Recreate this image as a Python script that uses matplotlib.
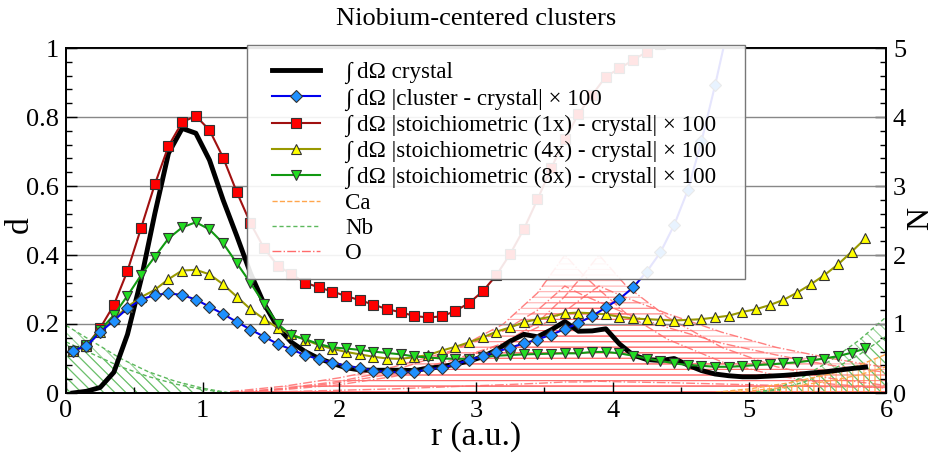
import numpy as np
import matplotlib
matplotlib.use('Agg')
import matplotlib.pyplot as plt
from matplotlib.ticker import MultipleLocator
from matplotlib.lines import Line2D
from matplotlib.patches import Rectangle

plt.rcParams['font.family'] = ['Liberation Serif', 'DejaVu Serif']
plt.rcParams['hatch.linewidth'] = 0.8

# radial grid of the d curves (a.u.)
r = np.linspace(0.05, 5.85, 59)

crystal = [0.0, 0.005, 0.016, 0.06, 0.17, 0.33, 0.52, 0.695, 0.767, 0.753,
           0.675, 0.559, 0.455, 0.347, 0.258, 0.19, 0.147, 0.12, 0.100, 0.086,
           0.073, 0.067, 0.066, 0.066, 0.066, 0.065, 0.072, 0.076, 0.084, 0.093,
           0.105, 0.125, 0.150, 0.170, 0.163, 0.183, 0.207, 0.179, 0.180, 0.186,
           0.142, 0.110, 0.097, 0.094, 0.100, 0.081, 0.065, 0.055, 0.050, 0.047,
           0.047, 0.049, 0.051, 0.054, 0.058, 0.061, 0.066, 0.071, 0.075]

cluster = [0.123, 0.136, 0.176, 0.210, 0.245, 0.271, 0.284, 0.289, 0.284, 0.271,
           0.250, 0.229, 0.206, 0.184, 0.163, 0.142, 0.126, 0.110, 0.098, 0.088,
           0.079, 0.073, 0.065, 0.061, 0.060, 0.061, 0.069, 0.073, 0.083, 0.096,
           0.107, 0.120, 0.131, 0.144, 0.155, 0.169, 0.185, 0.203, 0.223, 0.248,
           0.273, 0.306, 0.352, 0.408, 0.487, 0.588, 0.73, 0.893, 1.07]

stoich1 = [0.123, 0.137, 0.188, 0.255, 0.354, 0.479, 0.605, 0.716, 0.785, 0.803,
           0.762, 0.682, 0.582, 0.492, 0.419, 0.369, 0.344, 0.320, 0.306, 0.294,
           0.281, 0.269, 0.256, 0.243, 0.234, 0.223, 0.219, 0.222, 0.238, 0.261,
           0.295, 0.342, 0.403, 0.475, 0.561, 0.651, 0.735, 0.809, 0.864, 0.917,
           0.941, 0.965, 0.989, 1.013]

stoich4 = [0.123, 0.137, 0.178, 0.215, 0.250, 0.278, 0.299, 0.330, 0.355, 0.357,
           0.344, 0.315, 0.279, 0.243, 0.214, 0.189, 0.170, 0.154, 0.139, 0.128,
           0.119, 0.112, 0.105, 0.100, 0.099, 0.104, 0.110, 0.123, 0.134, 0.147,
           0.161, 0.178, 0.190, 0.205, 0.214, 0.221, 0.231, 0.233, 0.231, 0.228,
           0.221, 0.216, 0.214, 0.212, 0.210, 0.212, 0.214, 0.219, 0.224, 0.235,
           0.243, 0.255, 0.270, 0.291, 0.315, 0.342, 0.373, 0.410, 0.448]

stoich8 = [0.123, 0.138, 0.182, 0.226, 0.282, 0.342, 0.395, 0.448, 0.480, 0.495,
           0.474, 0.434, 0.376, 0.319, 0.258, 0.200, 0.167, 0.156, 0.142, 0.132,
           0.129, 0.125, 0.120, 0.116, 0.112, 0.106, 0.103, 0.100, 0.099, 0.099,
           0.104, 0.108, 0.110, 0.112, 0.113, 0.114, 0.115, 0.115, 0.119, 0.119,
           0.115, 0.108, 0.100, 0.093, 0.086, 0.081, 0.079, 0.076, 0.076, 0.078,
           0.081, 0.083, 0.086, 0.089, 0.094, 0.100, 0.107, 0.117, 0.129]

# atom counts N (right axis)
nb_r_left = [0.0, 0.2, 0.4, 0.6, 0.8, 1.0, 1.2]
nb_left_a = [0.98, 0.74, 0.50, 0.31, 0.17, 0.07, 0.0]
nb_left_b = [0.74, 0.56, 0.38, 0.24, 0.13, 0.05, 0.0]
nb_r_right = [5.0, 5.2, 5.4, 5.6, 5.8, 6.0]
nb_right_a = [0.0, 0.06, 0.24, 0.48, 0.76, 1.1]
nb_right_b = [0.0, 0.04, 0.16, 0.33, 0.55, 0.82]

ca_r = [4.7, 5.0, 5.3, 5.6, 5.8, 6.0]
ca_a = [0.0, 0.06, 0.15, 0.28, 0.40, 0.56]
ca_b = [0.0, 0.03, 0.09, 0.18, 0.26, 0.38]

o_r = [1.2, 1.6, 2.0, 2.4, 2.8, 3.2, 3.45, 3.65, 3.78, 3.9, 4.1, 4.4, 4.8, 5.2, 5.6, 6.0]
o_1 = [0.0, 0.07, 0.17, 0.33, 0.58, 1.0, 1.45, 2.0, 1.72, 1.5, 1.15, 0.78, 0.45, 0.25, 0.13, 0.07]
o_2 = [0.0, 0.05, 0.12, 0.24, 0.42, 0.72, 1.02, 1.40, 1.70, 2.0, 1.55, 1.1, 0.66, 0.38, 0.21, 0.11]
o_3 = [0.02, 0.1, 0.22, 0.38, 0.6, 0.9, 1.2, 1.55, 1.42, 1.32, 1.15, 0.95, 0.72, 0.55, 0.4, 0.3]
o_4 = [0.01, 0.06, 0.15, 0.28, 0.46, 0.72, 0.95, 1.18, 1.38, 1.55, 1.38, 1.15, 0.88, 0.66, 0.5, 0.37]
o_5 = [0.0, 0.02, 0.04, 0.06, 0.09, 0.12, 0.14, 0.16, 0.16, 0.17, 0.16, 0.15, 0.13, 0.11, 0.09, 0.08]

x_ticks = [0, 1, 2, 3, 4, 5, 6]
d_ticks = [0, 0.2, 0.4, 0.6, 0.8, 1]
d_tick_labels = ['0', '0.2', '0.4', '0.6', '0.8', '1']
n_ticks = [0, 1, 2, 3, 4, 5]

W, H = 937, 455
fig = plt.figure(figsize=(W / 100, H / 100), dpi=100)
ax = fig.add_axes([66 / W, 1 - 393 / H, 820 / W, 345 / H])
ax2 = ax.twinx()
ax.set_zorder(2)
ax2.set_zorder(1)
ax.patch.set_visible(False)

# background: atoms per shell
c_ca, c_nb, c_o = '#ffa64d', '#5cb85c', '#ff6b6b'
h_ca, h_nb, h_o = (1.0, 0.6, 0.2, 0.6), (0.3, 0.7, 0.3, 0.6), (1.0, 0.4, 0.4, 0.5)

for ys in (o_1, o_2, o_3, o_4, o_5):
    ax2.fill_between(o_r, 0, ys, facecolor='none', edgecolor=h_o, hatch='---', lw=0)
    ax2.plot(o_r, ys, color=c_o, lw=1, ls='-.', alpha=0.85)
for ys in (nb_left_a, nb_left_b):
    ax2.fill_between(nb_r_left, 0, ys, facecolor='none', edgecolor=h_nb, hatch='\\\\\\', lw=0)
    ax2.plot(nb_r_left, ys, color=c_nb, lw=1, ls=(0, (3, 2)))
for ys in (nb_right_a, nb_right_b):
    ax2.fill_between(nb_r_right, 0, ys, facecolor='none', edgecolor=h_nb, hatch='\\\\\\', lw=0)
    ax2.plot(nb_r_right, ys, color=c_nb, lw=1, ls=(0, (3, 2)))
for ys in (ca_a, ca_b):
    ax2.fill_between(ca_r, 0, ys, facecolor='none', edgecolor=h_ca, hatch='|||', lw=0)
    ax2.plot(ca_r, ys, color=c_ca, lw=1, ls='--')

# d curves
mk = dict(markeredgecolor='#333333', markeredgewidth=0.8, lw=1.5)
l0, = ax.plot(r[:len(crystal)], crystal, color='black', lw=3.5)
l2, = ax.plot(r[:len(stoich1)], stoich1, color='#a01010', marker='s', ms=6.5,
              markerfacecolor='#ff0000', **mk)
l3, = ax.plot(r[:len(stoich4)], stoich4, color='#999900', marker='^', ms=7,
              markerfacecolor='#ffff00', **mk)
l4, = ax.plot(r[:len(stoich8)], stoich8, color='#119911', marker='v', ms=7,
              markerfacecolor='#22dd22', **mk)
l1, = ax.plot(r[:len(cluster)], cluster, color='#0000ee', marker='D', ms=6.5,
              markerfacecolor='#1e90ff', **mk)

ax.set_xlim(0, 6)
ax.set_ylim(0, 1)
ax2.set_ylim(0, 5)
ax.set_xticks(x_ticks)
ax.set_xticklabels([str(t) for t in x_ticks])
ax.set_yticks(d_ticks)
ax.set_yticklabels(d_tick_labels)
ax2.set_yticks(n_ticks)
ax.xaxis.set_minor_locator(MultipleLocator(0.5))
ax.yaxis.set_minor_locator(MultipleLocator(0.04))
ax2.yaxis.set_minor_locator(MultipleLocator(0.2))
ax.yaxis.grid(True, color='#888888', lw=1)
ax.tick_params(which='both', direction='in', top=False, right=False, labelsize=19, pad=5)
ax.tick_params(which='major', length=8, width=1)
ax.tick_params(which='minor', length=4, width=1)
ax2.tick_params(which='both', direction='in', labelsize=19, pad=5)
ax2.tick_params(which='major', length=8, width=1)
ax2.tick_params(which='minor', length=4, width=1)
for a in (ax, ax2):
    for s in a.spines.values():
        s.set_linewidth(1.3)

fig.text(476 / W, 1 - 19 / H, 'Niobium-centered clusters', ha='center', va='center', fontsize=19)
fig.text(476 / W, 1 - 437 / H, 'r (a.u.)', ha='center', va='center', fontsize=24)
fig.text(20 / W, 1 - 225 / H, 'd', ha='center', va='center', fontsize=24, rotation=90)
fig.text(921 / W, 1 - 218 / H, 'N', ha='center', va='center', fontsize=23, rotation=90)

# legend box (frame drawn separately so the side padding can be wider)
ax.add_patch(Rectangle((247 / W, 1 - 279 / H), 498 / W, 234 / H, transform=fig.transFigure,
                       facecolor=(1, 1, 1, 0.9), edgecolor='#777777', lw=1, zorder=4.5,
                       clip_on=False))
handles = [l0, l1, l2, l3, l4,
           Line2D([], [], color=c_ca, lw=1, ls='--'),
           Line2D([], [], color=c_nb, lw=1, ls=(0, (3, 2))),
           Line2D([], [], color=c_o, lw=1, ls='-.')]
labels = ['∫ dΩ crystal',
          '∫ dΩ |cluster - crystal| × 100',
          '∫ dΩ |stoichiometric (1x) - crystal| × 100',
          '∫ dΩ |stoichiometric (4x) - crystal| × 100',
          '∫ dΩ |stoichiometric (8x) - crystal| × 100',
          'Ca', 'Nb', 'O']
ax.legend(handles, labels, loc='upper left', bbox_to_anchor=(272 / W, 1 - 62 / H),
          bbox_transform=fig.transFigure, fontsize=16.6, frameon=False,
          handlelength=2.1, handletextpad=1.08, labelspacing=0.17,
          borderpad=0, borderaxespad=0)

fig.savefig('out.png', dpi=100)
